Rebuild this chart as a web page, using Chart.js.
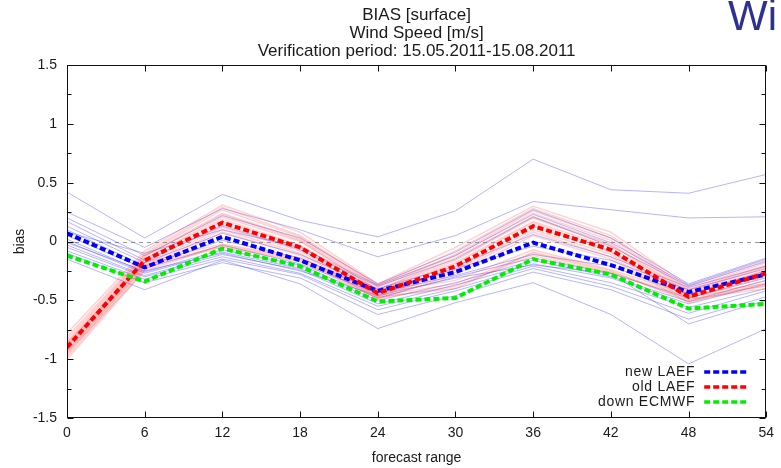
<!DOCTYPE html>
<html>
<head>
<meta charset="utf-8">
<script src="https://cdn.jsdelivr.net/npm/chart.js@4.4.1/dist/chart.umd.min.js"></script>
<style>
  html, body { margin: 0; padding: 0; background: #fff; }
  #wrap { width: 781px; height: 468px; position: relative; }
</style>
</head>
<body>
<div id="wrap"><canvas id="chart"></canvas></div>
<script>
const FONT = "'Liberation Sans', Arial, Helvetica, sans-serif";

// forecast range (hours)
const steps = [0, 6, 12, 18, 24, 30, 36, 42, 48, 54];

// ensemble means
const newLaef  = [0.07, -0.22, 0.04, -0.16, -0.42, -0.26, -0.01, -0.20, -0.43, -0.28];
const oldLaef  = [-0.90, -0.16, 0.16, -0.05, -0.44, -0.21, 0.13, -0.07, -0.47, -0.27];
const downEcmwf = [-0.12, -0.34, -0.06, -0.21, -0.51, -0.48, -0.15, -0.28, -0.57, -0.53];

// new LAEF members
const newMembers = [
  [0.42, 0.03, 0.40, 0.18, 0.04, 0.26, 0.70, 0.44, 0.41, 0.57],
  [0.25, -0.05, 0.28, 0.10, -0.13, 0.05, 0.34, 0.27, 0.20, 0.21],
  [0.20, -0.12, 0.22, 0.03, -0.36, -0.09, 0.27, 0.03, -0.36, -0.14],
  [0.17, -0.16, 0.13, -0.07, -0.38, -0.15, 0.21, -0.04, -0.38, -0.17],
  [0.13, -0.18, 0.07, -0.11, -0.40, -0.21, 0.06, -0.13, -0.39, -0.21],
  [0.10, -0.21, 0.01, -0.14, -0.43, -0.23, -0.04, -0.16, -0.41, -0.23],
  [0.05, -0.23, -0.03, -0.19, -0.44, -0.29, -0.11, -0.21, -0.45, -0.25],
  [0.02, -0.26, -0.07, -0.20, -0.48, -0.30, -0.14, -0.27, -0.48, -0.31],
  [0.00, -0.27, -0.09, -0.23, -0.50, -0.35, -0.16, -0.30, -0.51, -0.33],
  [-0.03, -0.29, -0.11, -0.24, -0.53, -0.37, -0.19, -0.31, -0.53, -0.36],
  [-0.05, -0.30, -0.13, -0.27, -0.55, -0.40, -0.21, -0.35, -0.56, -0.40],
  [-0.08, -0.32, -0.15, -0.28, -0.58, -0.42, -0.23, -0.38, -0.61, -0.42],
  [-0.10, -0.35, -0.18, -0.31, -0.62, -0.46, -0.26, -0.41, -0.66, -0.47],
  [-0.15, -0.41, -0.16, -0.36, -0.74, -0.52, -0.35, -0.62, -1.04, -0.74],
  [0.08, -0.10, 0.10, -0.05, -0.37, -0.12, 0.23, -0.01, -0.37, -0.15],
  [-0.01, -0.25, -0.10, -0.25, -0.46, -0.31, -0.20, -0.27, -0.70, -0.50]
];

// old LAEF members
const oldMembers = [
  [-0.78, -0.08, 0.31, 0.08, -0.36, -0.05, 0.30, 0.08, -0.38, -0.16],
  [-0.81, -0.10, 0.29, 0.05, -0.37, -0.08, 0.28, 0.05, -0.40, -0.18],
  [-0.83, -0.11, 0.27, 0.04, -0.38, -0.11, 0.26, 0.03, -0.41, -0.20],
  [-0.85, -0.12, 0.24, 0.02, -0.39, -0.12, 0.24, 0.01, -0.42, -0.21],
  [-0.87, -0.13, 0.23, 0.01, -0.41, -0.14, 0.21, -0.02, -0.43, -0.22],
  [-0.88, -0.15, 0.21, 0.00, -0.41, -0.16, 0.20, -0.03, -0.44, -0.24],
  [-0.90, -0.15, 0.19, -0.03, -0.42, -0.18, 0.17, -0.05, -0.45, -0.25],
  [-0.92, -0.17, 0.17, -0.04, -0.43, -0.19, 0.16, -0.08, -0.46, -0.26],
  [-0.94, -0.18, 0.14, -0.06, -0.45, -0.22, 0.13, -0.09, -0.48, -0.28],
  [-0.96, -0.20, 0.12, -0.08, -0.46, -0.24, 0.10, -0.11, -0.48, -0.30],
  [-0.98, -0.22, 0.10, -0.10, -0.47, -0.26, 0.08, -0.13, -0.50, -0.33],
  [-1.00, -0.24, 0.08, -0.12, -0.49, -0.28, 0.05, -0.15, -0.52, -0.35],
  [-0.86, -0.18, -0.02, -0.14, -0.44, -0.33, -0.07, -0.24, -0.45, -0.36],
  [-0.89, -0.20, -0.04, -0.16, -0.46, -0.36, -0.10, -0.26, -0.47, -0.38],
  [-0.93, -0.22, -0.05, -0.17, -0.48, -0.38, -0.12, -0.27, -0.49, -0.40],
  [-0.95, -0.25, -0.03, -0.15, -0.47, -0.40, -0.09, -0.25, -0.51, -0.37]
];

const yTickLabels = [-1.5, -1, -0.5, 0, 0.5, 1, 1.5];
const yMinorTicks = [-1.25, -0.75, -0.25, 0.25, 0.75, 1.25];
const titleLines = ["BIAS [surface]", "Wind Speed [m/s]", "Verification period: 15.05.2011-15.08.2011"];

const toXY = (vals) => vals.map((v, i) => ({ x: steps[i], y: v }));

const memberSet = (vals, color, width, order) => ({
  label: "", data: toXY(vals), borderColor: color, borderWidth: width,
  pointRadius: 0, fill: false, tension: 0, order
});

const mainSet = (label, vals, color, order) => ({
  label, data: toXY(vals), borderColor: color, borderWidth: 4,
  borderDash: [6, 3], borderCapStyle: "butt", pointRadius: 0, fill: false, tension: 0, order, main: true
});

const datasets = [
  ...newMembers.map(v => memberSet(v, "rgba(50,50,255,0.36)", 1, 20)),
  ...oldMembers.map(v => memberSet(v, "rgba(255,40,40,0.22)", 1.4, 10)),
  mainSet("new LAEF", newLaef, "#0000ff", 3),
  mainSet("old LAEF", oldLaef, "#ff0000", 2),
  mainSet("down ECMWF", downEcmwf, "#00ee00", 1)
];

// dashed zero line underneath the data
const zeroLine = {
  id: "zeroLine",
  beforeDatasetsDraw(chart) {
    const { ctx, chartArea: a, scales: { y } } = chart;
    const py = Math.round(y.getPixelForValue(0)) + 0.5;
    ctx.save();
    ctx.strokeStyle = "#9a9a9a";
    ctx.lineWidth = 1;
    ctx.setLineDash([4, 4]);
    ctx.beginPath(); ctx.moveTo(a.left, py); ctx.lineTo(a.right, py); ctx.stroke();
    ctx.restore();
  }
};

// gnuplot style frame with inward ticks on all four sides
const frame = {
  id: "frame",
  afterDatasetsDraw(chart) {
    const { ctx, chartArea: a, scales: { x, y } } = chart;
    const L = Math.round(a.left) + 0.5, R = Math.round(a.right) - 0.5;
    const T = Math.round(a.top) + 0.5, B = Math.round(a.bottom) - 0.5;
    ctx.save();
    ctx.strokeStyle = "#111";
    ctx.lineWidth = 1;
    ctx.strokeRect(L, T, R - L, B - T);
    ctx.beginPath();
    steps.forEach(s => {
      const px = Math.round(x.getPixelForValue(s)) + 0.5;
      ctx.moveTo(px, B); ctx.lineTo(px, B - 6);
      ctx.moveTo(px, T); ctx.lineTo(px, T + 6);
    });
    yTickLabels.forEach(v => {
      const py = Math.round(y.getPixelForValue(v)) + 0.5;
      ctx.moveTo(L, py); ctx.lineTo(L + 6, py);
      ctx.moveTo(R, py); ctx.lineTo(R - 6, py);
    });
    yMinorTicks.forEach(v => {
      const py = Math.round(y.getPixelForValue(v)) + 0.5;
      ctx.moveTo(L, py); ctx.lineTo(L + 4, py);
      ctx.moveTo(R, py); ctx.lineTo(R - 4, py);
    });
    ctx.stroke();
    ctx.restore();
  }
};

// title block, key and corner text
const decor = {
  id: "decor",
  afterDraw(chart) {
    const { ctx, chartArea: a } = chart;
    const cx = (a.left + a.right) / 2;
    ctx.save();
    ctx.fillStyle = "#1a1a1a";
    ctx.font = `17px ${FONT}`;
    ctx.textAlign = "center";
    ctx.textBaseline = "middle";
    titleLines.forEach((t, i) => ctx.fillText(t, cx, 15 + i * 18));

    ctx.fillStyle = "#2e3192";
    ctx.font = `42px ${FONT}`;
    ctx.textAlign = "left";
    ctx.textBaseline = "alphabetic";
    ctx.fillText("Wi", 728, 30);

    const mains = chart.data.datasets.filter(d => d.main);
    ctx.font = `14px ${FONT}`;
    ctx.letterSpacing = "0.7px";
    ctx.textAlign = "right";
    ctx.textBaseline = "middle";
    mains.forEach((d, i) => {
      const ly = a.bottom - 46 + i * 15;
      ctx.fillStyle = "#1a1a1a";
      ctx.fillText(d.label, a.right - 71, ly);
      ctx.strokeStyle = d.borderColor;
      ctx.lineWidth = 3.5;
      ctx.setLineDash([6, 3]);
      ctx.beginPath(); ctx.moveTo(a.right - 62, ly); ctx.lineTo(a.right - 19, ly); ctx.stroke();
    });
    ctx.restore();
  }
};

const tickFont = { family: FONT, size: 14 };

new Chart(document.getElementById("chart"), {
  type: "line",
  data: { datasets },
  options: {
    responsive: true,
    maintainAspectRatio: false,
    animation: false,
    layout: { padding: { top: 65, right: 9, bottom: 0, left: 0 } },
    plugins: { legend: { display: false }, tooltip: { enabled: false } },
    scales: {
      x: {
        type: "linear", min: 0, max: 54,
        afterBuildTicks: (s) => { s.ticks = steps.map(v => ({ value: v })); },
        ticks: { padding: 7, color: "#1a1a1a", font: tickFont, maxRotation: 0, autoSkip: false },
        grid: { display: false, drawTicks: false },
        border: { display: false },
        title: { display: true, text: "forecast range", color: "#1a1a1a", font: tickFont, padding: { top: 0, bottom: 1 } },
        afterFit: (s) => { s.height = 50; }
      },
      y: {
        type: "linear", min: -1.5, max: 1.5,
        afterBuildTicks: (s) => { s.ticks = yTickLabels.map(v => ({ value: v })); },
        ticks: { padding: 10, color: "#1a1a1a", font: tickFont, callback: (v) => String(v) },
        grid: { display: false, drawTicks: false },
        border: { display: false },
        title: { display: true, text: "bias", color: "#1a1a1a", font: tickFont, padding: { top: 12, bottom: 0 } },
        afterFit: (s) => { s.width = 67; }
      }
    }
  },
  plugins: [zeroLine, frame, decor]
});
</script>
</body>
</html>
